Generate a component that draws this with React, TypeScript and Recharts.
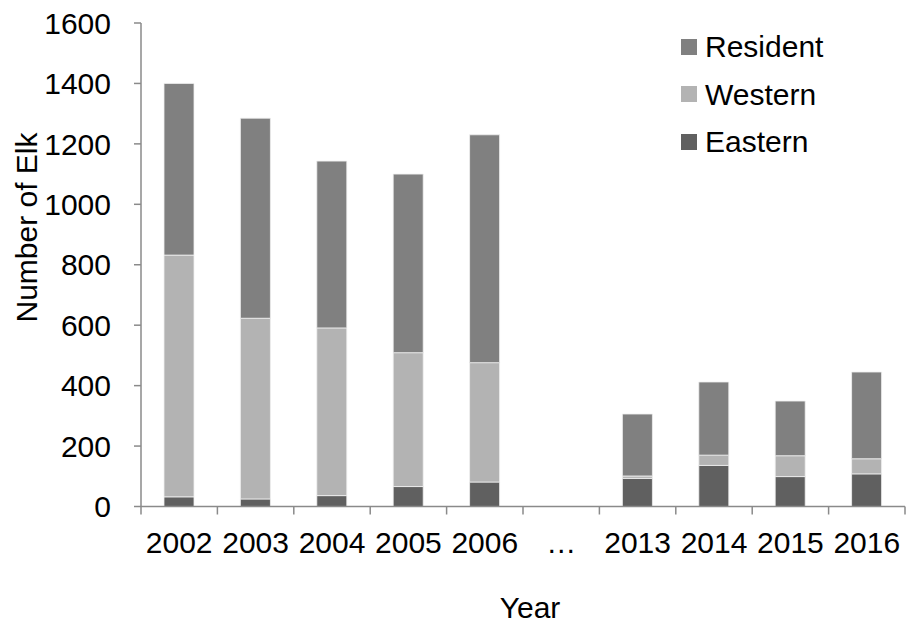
import React from "react";
import { BarChart, Bar, XAxis, YAxis, Label } from "recharts";

// values
const YEARS = ["2002", "2003", "2004", "2005", "2006", "…", "2013", "2014", "2015", "2016"];
const EASTERN = [32, 25, 36, 66, 81, null, 93, 136, 99, 108];
const WESTERN = [800, 598, 555, 443, 395, null, 8, 34, 69, 50];
const RESIDENT = [568, 662, 552, 591, 754, null, 205, 242, 181, 287];
const Y_TICKS = [0, 200, 400, 600, 800, 1000, 1200, 1400, 1600];

const SERIES = [
  { key: "eastern", name: "Eastern", color: "#606060" },
  { key: "western", name: "Western", color: "#b3b3b3" },
  { key: "resident", name: "Resident", color: "#808080" },
];

const FONT = '"Liberation Sans", Arial, sans-serif';
const AXIS_GREY = "#8a8a8a";

const data = YEARS.map((year, i) => ({
  year,
  eastern: EASTERN[i],
  western: WESTERN[i],
  resident: RESIDENT[i],
}));

// Excel-style x ticks: marks sit between categories, labels in the middle
const CategoryTick = (props: any) => {
  const { x, y, payload, index } = props;
  const off = payload && payload.offset ? payload.offset : 38.2;
  const lineTop = y - 25;
  return (
    <g>
      <line x1={x - off} x2={x - off} y1={lineTop} y2={lineTop + 8} stroke={AXIS_GREY} strokeWidth={1.5} />
      {index === YEARS.length - 1 && (
        <line x1={x + off} x2={x + off} y1={lineTop} y2={lineTop + 8} stroke={AXIS_GREY} strokeWidth={1.5} />
      )}
      <text x={x} y={y} dy="0.71em" textAnchor="middle" fill="#000" fontSize={30} fontFamily={FONT}>
        {payload.value}
      </text>
    </g>
  );
};

// legend drawn on top of the chart, top series first like Excel does
const LegendBox = () => (
  <div style={{ position: "absolute", top: 23, left: 681, fontFamily: FONT, fontSize: 30 }}>
    {[...SERIES].reverse().map((s) => (
      <div key={s.key} style={{ display: "flex", alignItems: "center", height: 47.5, lineHeight: "47.5px" }}>
        <span style={{ width: 16, height: 16, background: s.color, marginRight: 8, display: "inline-block" }} />
        <span style={{ color: "#000" }}>{s.name}</span>
      </div>
    ))}
  </div>
);

export default function App() {
  return (
    <div style={{ position: "absolute", top: 0, left: 0, width: 907, height: 626, background: "#fff" }}>
      <BarChart
        width={907}
        height={626}
        data={data}
        margin={{ top: 23, right: 2, left: 0, bottom: 0 }}
        barSize={30}
      >
        <XAxis
          dataKey="year"
          height={119.5}
          interval={0}
          stroke={AXIS_GREY}
          strokeWidth={1.5}
          tickLine={false}
          tickSize={8}
          tickMargin={17}
          tick={<CategoryTick />}
        >
          <Label
            content={() => (
              <text x={530} y={618} textAnchor="middle" fill="#000" fontSize={30} fontFamily={FONT}>
                Year
              </text>
            )}
          />
        </XAxis>
        <YAxis
          width={141}
          domain={[0, 1600]}
          ticks={Y_TICKS}
          interval={0}
          stroke={AXIS_GREY}
          strokeWidth={1.5}
          tickSize={7}
          tickMargin={23}
          tick={{ fill: "#000", fontSize: 30, fontFamily: FONT }}
        >
          <Label
            content={() => (
              <text
                x={37}
                y={227.5}
                transform="rotate(-90, 37, 227.5)"
                textAnchor="middle"
                fill="#000"
                fontSize={30}
                fontFamily={FONT}
              >
                Number of Elk
              </text>
            )}
          />
        </YAxis>
        {SERIES.map((s) => (
          <Bar
            key={s.key}
            dataKey={s.key}
            name={s.name}
            stackId="a"
            fill={s.color}
            stroke="#f0f0f0"
            strokeWidth={0.8}
            isAnimationActive={false}
          />
        ))}
      </BarChart>
      <LegendBox />
    </div>
  );
}
